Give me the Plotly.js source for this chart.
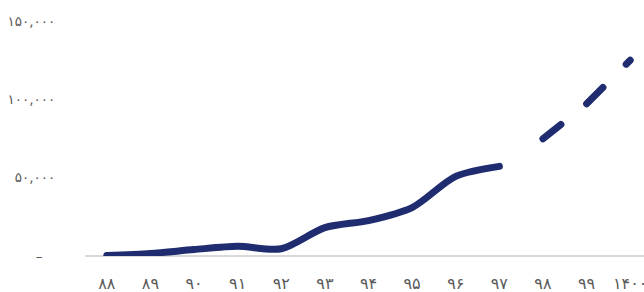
<!DOCTYPE html>
<html>
<head>
<meta charset="utf-8">
<script src="https://cdn.plot.ly/plotly-3.0.1.min.js"></script>
<style>
html, body { margin: 0; padding: 0; overflow: hidden; background: #fff; }
#chart { width: 652px; height: 292px; }
.scatterlayer .js-line { stroke-linecap: round; }
</style>
</head>
<body>
<div id="chart"></div>
<script>
// Categories (Persian years)
const years = ['۸۸', '۸۹', '۹۰', '۹۱', '۹۲', '۹۳', '۹۴', '۹۵', '۹۶', '۹۷', '۹۸', '۹۹', '۱۴۰۰'];
// Actual values (solid line), 88–97
const actualYears = ['۸۸', '۸۹', '۹۰', '۹۱', '۹۲', '۹۳', '۹۴', '۹۵', '۹۶', '۹۷'];
const actualValues = [300, 1600, 4100, 6200, 4600, 18100, 22600, 30900, 50800, 57200];
// Forecast values (dashed line), 98–1400
const forecastYears = ['۹۸', '۹۹', '۱۴۰۰'];
const forecastValues = [74800, 97100, 125000];
// Y tick labels
const yTickVals = [0, 50000, 100000, 150000];
const yTickText = ['–\u00a0\u00a0\u00a0', '۵۰,۰۰۰', '۱۰۰,۰۰۰', '۱۵۰,۰۰۰'];

const navy = '#1f2c6f';
const traces = [
  {
    x: actualYears, y: actualValues, type: 'scatter', mode: 'lines',
    line: { color: navy, width: 7, shape: 'spline', smoothing: 0.8 },
    hoverinfo: 'skip'
  },
  {
    x: forecastYears, y: forecastValues, type: 'scatter', mode: 'lines',
    line: { color: navy, width: 7, dash: '23px,33px' },
    hoverinfo: 'skip'
  }
];

const layout = {
  width: 652, height: 292,
  margin: { l: 85, r: 0, t: 21, b: 35.5 },
  paper_bgcolor: '#fff', plot_bgcolor: '#fff',
  showlegend: false,
  font: { family: 'DejaVu Sans', color: '#595959' },
  xaxis: {
    type: 'category', categoryorder: 'array', categoryarray: years,
    tickvals: years, range: [-0.5, 12.5],
    showgrid: false, zeroline: false, showline: false,
    ticks: 'outside', ticklen: 13, tickcolor: 'rgba(0,0,0,0)',
    tickfont: { family: 'DejaVu Sans', size: 16, color: '#595959' }
  },
  yaxis: {
    range: [0, 150000], tickvals: yTickVals, ticktext: yTickText,
    showgrid: false, zeroline: true, zerolinecolor: '#d9d9d9', zerolinewidth: 1.5,
    showline: false,
    ticks: 'outside', ticklen: 26, tickcolor: 'rgba(0,0,0,0)',
    tickfont: { family: 'DejaVu Sans', size: 13.5, color: '#595959' }
  }
};

Plotly.newPlot('chart', traces, layout, { staticPlot: true, displayModeBar: false });
</script>
</body>
</html>
